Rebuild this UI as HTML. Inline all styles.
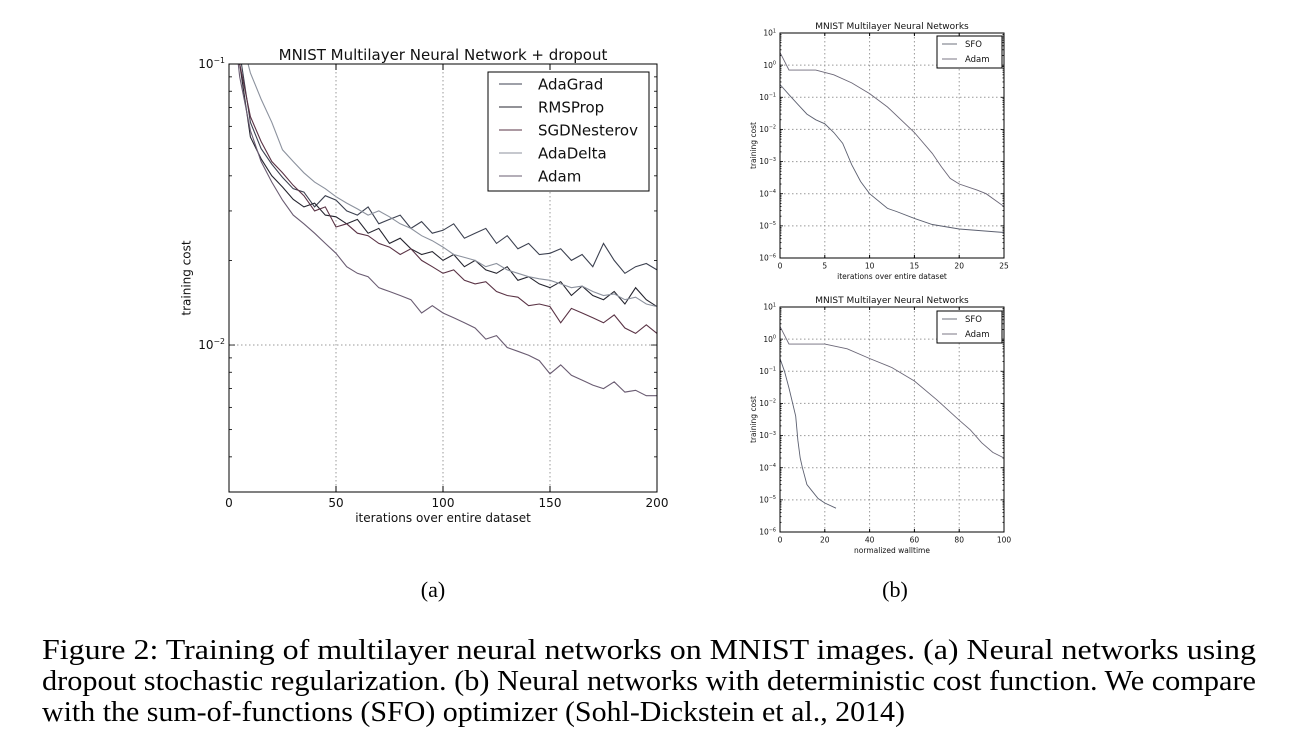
<!DOCTYPE html>
<html><head><meta charset="utf-8"><style>
body{margin:0;background:#fff;}
svg{display:block;font-family:"DejaVu Sans","Liberation Sans",sans-serif;}
.cap{font-family:"Liberation Serif",serif;}
</style></head><body>
<svg id="fig" width="1304" height="742" viewBox="0 0 1304 742">
<text class="cap" x="433" y="597" font-size="22" text-anchor="middle">(a)</text>
<text class="cap" x="895" y="597" font-size="22" text-anchor="middle">(b)</text>
<text class="cap" x="42" y="659" font-size="28" textLength="1214" lengthAdjust="spacingAndGlyphs">Figure 2: Training of multilayer neural networks on MNIST images.  (a) Neural networks using</text>
<text class="cap" x="42" y="690" font-size="28" textLength="1214" lengthAdjust="spacingAndGlyphs">dropout stochastic regularization. (b) Neural networks with deterministic cost function. We compare</text>
<text class="cap" x="42" y="721" font-size="28" textLength="863" lengthAdjust="spacingAndGlyphs">with the sum-of-functions (SFO) optimizer (Sohl-Dickstein et al., 2014)</text>
</svg>
<script>
// ---- Chart (a) data ----
const iterA = [0,5,10,15,20,25,30,35,40,45,50,55,60,65,70,75,80,85,90,95,100,105,110,115,120,125,130,135,140,145,150,155,160,165,170,175,180,185,190,195,200];
const adaGrad = [0.25,0.11,0.062,0.05,0.044,0.0395,0.036,0.035,0.031,0.034,0.0328,0.030,0.029,0.031,0.027,0.028,0.029,0.026,0.0275,0.025,0.0256,0.027,0.024,0.025,0.026,0.023,0.0245,0.022,0.023,0.021,0.0212,0.022,0.020,0.021,0.019,0.023,0.020,0.018,0.019,0.0195,0.0185];
const rmsProp = [0.22,0.1,0.055,0.046,0.040,0.0365,0.033,0.031,0.032,0.029,0.0286,0.027,0.028,0.025,0.026,0.023,0.024,0.022,0.021,0.0215,0.020,0.021,0.019,0.020,0.0185,0.018,0.019,0.017,0.0175,0.0165,0.016,0.0168,0.015,0.0162,0.015,0.0145,0.0155,0.014,0.016,0.0145,0.0137];
const sgdNesterov = [0.2,0.1,0.065,0.053,0.045,0.041,0.037,0.034,0.030,0.031,0.0263,0.027,0.025,0.0245,0.023,0.0223,0.021,0.022,0.020,0.019,0.018,0.0185,0.017,0.0165,0.0168,0.0155,0.015,0.0148,0.0138,0.014,0.0137,0.012,0.0135,0.013,0.0125,0.012,0.0128,0.0115,0.011,0.0118,0.011];
const adaDelta = [0.3,0.13,0.093,0.075,0.062,0.0495,0.045,0.041,0.038,0.036,0.0337,0.032,0.0305,0.029,0.030,0.0286,0.027,0.026,0.0245,0.0235,0.0223,0.021,0.0205,0.020,0.019,0.0195,0.0185,0.018,0.0175,0.0172,0.017,0.0165,0.016,0.0162,0.0155,0.015,0.0152,0.0145,0.0148,0.014,0.0137];
const adamA = [0.2,0.09,0.058,0.045,0.038,0.0328,0.029,0.027,0.025,0.023,0.0212,0.019,0.018,0.0175,0.016,0.0155,0.015,0.0145,0.013,0.0138,0.013,0.0125,0.012,0.0115,0.0105,0.0108,0.0098,0.0095,0.0092,0.0088,0.0079,0.0085,0.0078,0.0075,0.0072,0.0070,0.0074,0.0068,0.0069,0.0066,0.0066];
const xTicksA = [0,50,100,150,200];
// ---- Chart (b) top data ----
const iterB1 = [0,1,2,3,4,5,6,7,8,9,10,12,13,15,17,20,25];
const sfoTop = [0.25,0.12,0.06,0.03,0.02,0.015,0.008,0.0037,0.0008,0.00024,0.0001,0.000035,0.000028,0.000017,0.000011,0.000008,0.0000062];
const iterB1b = [0,1,4,6,8,10,12,15,17,18,19,20,22,23,25];
const adamTop = [2.5,0.7,0.7,0.5,0.28,0.13,0.05,0.008,0.0018,0.0007,0.0003,0.0002,0.00013,0.0001,0.00004];
// ---- Chart (b) bottom data ----
const timeB2 = [0,2,4,6,7,8,9,10,12,14,17,20,25];
const sfoBottom = [0.25,0.1,0.03,0.008,0.004,0.0007,0.0002,0.0001,0.00003,0.00002,0.000011,0.000008,0.0000055];
const timeB2b = [0,4,20,30,40,50,60,70,80,85,90,95,100];
const adamBottom = [2.5,0.7,0.7,0.5,0.25,0.13,0.05,0.013,0.003,0.0015,0.0006,0.0003,0.0002];

const NS="http://www.w3.org/2000/svg";
const svg=document.getElementById('fig');
function mk(tag,attrs,parent){const e=document.createElementNS(NS,tag);for(const k in attrs)e.setAttribute(k,attrs[k]);(parent||svg).appendChild(e);return e;}

function chart(o){
  const g=mk('g',{});
  
  
  const X=v=>o.L+(v-o.x0)/(o.x1-o.x0)*(o.R-o.L);
  const Y=v=>o.T+(o.logTop-Math.log10(v))/(o.logTop-o.logBot)*(o.B-o.T);
  const cid='clip'+o.name;
  const cp=mk('clipPath',{id:cid},g);mk('rect',{x:o.L,y:o.T,width:o.R-o.L,height:o.B-o.T},cp);
  o.xTicks.forEach(t=>{if(t>o.x0&&t<o.x1){const l=mk('line',{x1:X(t),x2:X(t),y1:o.T,y2:o.B,stroke:'#999','stroke-dasharray':'1.5,2.5','stroke-width':1},g);
    }});
  o.yDec.forEach(d=>{if(d<o.logTop&&d>o.logBot){const l=mk('line',{x1:o.L,x2:o.R,y1:Y(Math.pow(10,d)),y2:Y(Math.pow(10,d)),stroke:'#999','stroke-dasharray':'1.5,2.5','stroke-width':1},g);
    }});
  o.xTicks.forEach(t=>{const x=X(t);mk('line',{x1:x,x2:x,y1:o.B,y2:o.B-o.tk,stroke:'#000'},g);mk('line',{x1:x,x2:x,y1:o.T,y2:o.T+o.tk,stroke:'#000'},g);
    const tx=mk('text',{x:x,y:o.B+o.fs+3,'font-size':o.fs,'text-anchor':'middle',fill:'#111'},g);tx.textContent=t;
    });
  for(let d=Math.floor(o.logBot);d<o.logTop;d++){for(let m=1;m<10;m++){const lv=d+Math.log10(m);if(lv<=o.logBot||lv>=o.logTop)continue;const y=Y(Math.pow(10,lv));const len=m===1?o.tk:o.tk/2;
    mk('line',{x1:o.L,x2:o.L+len,y1:y,y2:y,stroke:'#000','stroke-width':0.8},g);mk('line',{x1:o.R,x2:o.R-len,y1:y,y2:y,stroke:'#000','stroke-width':0.8},g);}}
  o.yDec.forEach(d=>{const y=Y(Math.pow(10,d));const tx=mk('text',{x:o.L-4,y:y+o.fs*0.35,'font-size':o.fs,'text-anchor':'end',fill:'#111'},g);
    
    const a=mk('tspan',{},tx);a.textContent='10';const b=mk('tspan',{dy:-o.fs*0.45,'font-size':o.fs*0.65},tx);b.textContent=String(d).replace('-','\u2212');});
  o.series.forEach(s=>{const d=s.x.map((v,i)=>(i?'L':'M')+X(v).toFixed(1)+','+Y(s.y[i]).toFixed(1)).join('');
    const p=mk('path',{d:d,fill:'none',stroke:s.c,'stroke-width':o.lw,'clip-path':'url(#'+cid+')'},g);
    });
  mk('rect',{x:o.L,y:o.T,width:o.R-o.L,height:o.B-o.T,fill:'none',stroke:'#000','stroke-width':1},g);
  const ti=mk('text',{x:(o.L+o.R)/2,y:o.T-4,'font-size':o.tfs,'text-anchor':'middle',fill:'#111'},g);ti.textContent=o.title;
  
  const xl=mk('text',{x:(o.L+o.R)/2,y:o.B+o.fs*2+6,'font-size':o.fs,'text-anchor':'middle',fill:'#111'},g);xl.textContent=o.xlabel;
  
  const yx=o.L-o.fs*3.2,yy=(o.T+o.B)/2;
  const yl=mk('text',{x:yx,y:yy,'font-size':o.fs,'text-anchor':'middle',fill:'#111',transform:'rotate(-90 '+yx+' '+yy+')'},g);yl.textContent='training cost';
  
  const lg=o.leg;const lgG=mk('g',{},g);
  
  mk('rect',{x:lg.x,y:lg.y,width:lg.w,height:lg.h,fill:'#fff',stroke:'#000','stroke-width':1},lgG);
  o.series.forEach((s,i)=>{const y=lg.y+lg.pad+i*lg.gap;mk('line',{x1:lg.x+lg.l1,x2:lg.x+lg.l2,y1:y,y2:y,stroke:s.c,'stroke-width':o.lw},lgG);
    const t=mk('text',{x:lg.x+lg.tx,y:y+lg.fs*0.36,'font-size':lg.fs,fill:'#111'},lgG);t.textContent=s.label;
    });
}

chart({name:'chart-a',L:229,R:657,T:64,B:492,x0:0,x1:200,logTop:-1,logBot:-2.523,xTicks:xTicksA,yDec:[-1,-2],fs:12,tfs:15,tk:6,lw:1.1,
  title:'MNIST Multilayer Neural Network + dropout',xlabel:'iterations over entire dataset',
  leg:{x:488,y:72,w:161,h:119,pad:12,gap:23,l1:11,l2:34,tx:50,fs:15},
  series:[{n:'series-adagrad',label:'AdaGrad',x:iterA,y:adaGrad,c:'#3c4150'},
          {n:'series-rmsprop',label:'RMSProp',x:iterA,y:rmsProp,c:'#25252f'},
          {n:'series-sgdnesterov',label:'SGDNesterov',x:iterA,y:sgdNesterov,c:'#5a3345'},
          {n:'series-adadelta',label:'AdaDelta',x:iterA,y:adaDelta,c:'#8c929e'},
          {n:'series-adam',label:'Adam',x:iterA,y:adamA,c:'#6a5c72'}]});

chart({name:'chart-b-top',L:780,R:1004,T:33,B:258,x0:0,x1:25,logTop:1,logBot:-6,xTicks:[0,5,10,15,20,25],yDec:[1,0,-1,-2,-3,-4,-5,-6],fs:7.5,tfs:9,tk:3,lw:0.9,
  title:'MNIST Multilayer Neural Networks',xlabel:'iterations over entire dataset',
  leg:{x:937,y:36,w:65,h:32,pad:8,gap:15,l1:5,l2:20,tx:28,fs:8.5},
  series:[{n:'series-sfo-top',label:'SFO',x:iterB1,y:sfoTop,c:'#5c6070'},
          {n:'series-adam-top',label:'Adam',x:iterB1b,y:adamTop,c:'#6c6878'}]});

chart({name:'chart-b-bottom',L:780,R:1004,T:307,B:532,x0:0,x1:100,logTop:1,logBot:-6,xTicks:[0,20,40,60,80,100],yDec:[1,0,-1,-2,-3,-4,-5,-6],fs:7.5,tfs:9,tk:3,lw:0.9,
  title:'MNIST Multilayer Neural Networks',xlabel:'normalized walltime',
  leg:{x:937,y:311,w:65,h:32,pad:8,gap:15,l1:5,l2:20,tx:28,fs:8.5},
  series:[{n:'series-sfo-bottom',label:'SFO',x:timeB2,y:sfoBottom,c:'#5c6070'},
          {n:'series-adam-bottom',label:'Adam',x:timeB2b,y:adamBottom,c:'#6c6878'}]});
</script>
</body></html>
